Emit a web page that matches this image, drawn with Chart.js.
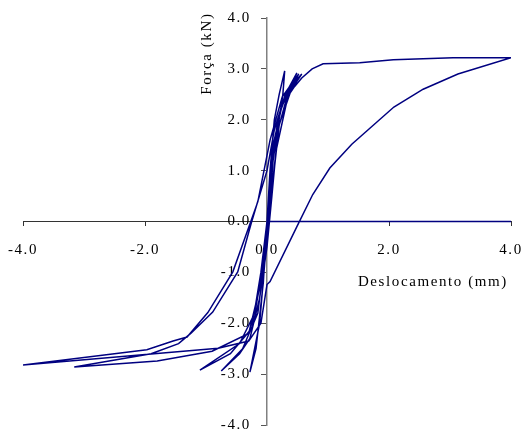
<!DOCTYPE html>
<html>
<head>
<meta charset="utf-8">
<script src="https://cdn.jsdelivr.net/npm/chart.js@4"></script>
<style>
  html, body { margin: 0; padding: 0; background: #fff; }
  #wrap { width: 523px; height: 434px; }
</style>
</head>
<body>
<div id="wrap"><canvas id="c"></canvas></div>
<script>
// deslocamento (mm) e força (kN)
const deslocamento = [
  4.0, 0.0,
  0.05, 0.12, 0.20, 0.29, 0.26, 0.10, 0.02, -0.05, -0.12, -0.28, -0.18, -0.06, 0.0,
  0.08, 0.18, 0.30, 0.49, 0.35, 0.18, 0.08, 0.0, -0.12, -0.28, -0.45, -0.75, -0.40, -0.15, -0.05, 0.02,
  0.10, 0.20, 0.35, 0.57, 0.40, 0.20, 0.08, -0.02, -0.20, -0.45, -1.10, -0.60, -0.25, -0.10, 0.0,
  0.10, 0.25, 0.45, 0.57, 0.74, 0.92, 1.52, 2.07, 3.05, 4.0,
  3.13, 2.56, 2.08, 1.39, 1.03, 0.75, 0.49, 0.05, 0.0, -0.10, -0.30, -0.80, -4.0,
  -1.97, -1.54, -1.31, -0.97, -0.56, -0.15, 0.05, 0.25, 0.52,
  0.35, 0.15, 0.02, -0.10, -0.30, -0.90, -1.80, -3.16,
  -1.90, -1.45, -1.25, -0.89, -0.48, -0.26, 0.0, 0.12, 0.30, 0.49
];
const forca = [
  0.0, 0.0,
  1.0, 2.0, 2.5, 2.96, 2.5, 1.2, 0.0, -1.0, -2.0, -2.96, -2.5, -1.2, 0.0,
  1.2, 2.0, 2.5, 2.92, 2.55, 1.8, 0.5, -0.5, -1.5, -2.3, -2.6, -2.94, -2.5, -1.8, -0.8, 0.0,
  1.4, 2.1, 2.6, 2.9, 2.6, 1.9, 0.6, -0.6, -1.8, -2.4, -2.92, -2.6, -2.1, -1.0, 0.0,
  1.5, 2.3, 2.65, 2.82, 3.0, 3.1, 3.12, 3.18, 3.22, 3.22,
  2.9, 2.6, 2.25, 1.52, 1.05, 0.53, -0.1, -1.18, -1.24, -2.0, -2.35, -2.49, -2.82,
  -2.52, -2.35, -2.27, -1.79, -0.99, 0.39, 1.6, 2.45, 2.9,
  2.5, 1.4, 0.0, -1.2, -2.2, -2.55, -2.74, -2.86,
  -2.6, -2.4, -2.2, -1.78, -0.99, -0.04, 1.0, 1.8, 2.5, 2.92
];
const ticksX = [-4, -2, 0, 2, 4];
const ticksY = [-4, -3, -2, -1, 0, 1, 2, 3, 4];

const pontos = deslocamento.map((d, i) => ({x: d, y: forca[i]}));
const fonte = {family: 'Liberation Serif', size: 15};
const espaco = '1.6px';

// o texto do original é mais largo, entao abre um pouco o espacamento
const espacamento = {
  id: 'espacamento',
  beforeUpdate(chart) { chart.ctx.letterSpacing = espaco; },
  beforeDraw(chart) { chart.ctx.letterSpacing = espaco; }
};

// titulos dos eixos, desenhados a mao (eixos ficam no centro)
const titulos = {
  id: 'titulos',
  afterDraw(chart) {
    const ctx = chart.ctx;
    const sx = chart.scales.x, sy = chart.scales.y;
    ctx.save();
    ctx.letterSpacing = espaco;
    ctx.fillStyle = '#000';
    ctx.font = '15px "Liberation Serif"';
    ctx.textAlign = 'center';
    ctx.textBaseline = 'middle';
    ctx.fillText('Deslocamento (mm)', sx.getPixelForValue(2.72), sy.getPixelForValue(-1.2));
    ctx.translate(sx.getPixelForValue(-0.98), sy.getPixelForValue(3.3));
    ctx.rotate(-Math.PI / 2);
    ctx.fillText('Força (kN)', 0, 0);
    ctx.restore();
  }
};

// eixos no meio: nao deixar que ocupem espaco nem mexam na area do grafico
const semEspacoX = s => { s.height = 0; s.paddingLeft = 0; s.paddingRight = 0; s.paddingTop = 0; s.paddingBottom = 0; };
const semEspacoY = s => { s.width = 0; s.paddingLeft = 0; s.paddingRight = 0; s.paddingTop = 0; s.paddingBottom = 0; };

new Chart(document.getElementById('c'), {
  type: 'scatter',
  data: {
    datasets: [{
      data: pontos,
      showLine: true,
      borderColor: '#000080',
      borderWidth: 1.5,
      pointRadius: 0,
      tension: 0
    }]
  },
  options: {
    responsive: true,
    maintainAspectRatio: false,
    animation: false,
    layout: {padding: {left: 23, right: 12, top: 18, bottom: 9}},
    plugins: {legend: {display: false}, tooltip: {enabled: false}},
    scales: {
      x: {
        type: 'linear', min: -4, max: 4,
        position: {y: 0},
        afterFit: semEspacoX,
        afterBuildTicks: s => { s.ticks = ticksX.map(v => ({value: v})); },
        ticks: {color: '#000', font: fonte, padding: 16, maxRotation: 0, callback: v => v.toFixed(1)},
        grid: {drawOnChartArea: false, tickLength: 4, color: '#333'},
        border: {color: '#333', width: 1}
      },
      y: {
        type: 'linear', min: -4, max: 4,
        position: {x: 0},
        afterFit: semEspacoY,
        afterBuildTicks: s => { s.ticks = ticksY.map(v => ({value: v})); },
        // rotulo fica colado no eixo com posicao central, os espacos afastam
        ticks: {color: '#000', font: fonte, padding: 8, callback: v => v.toFixed(1) + '   '},
        grid: {drawOnChartArea: false, tickLength: 5, color: '#555'},
        border: {color: '#808080', width: 1.5}
      }
    }
  },
  plugins: [espacamento, titulos]
});
</script>
</body>
</html>
